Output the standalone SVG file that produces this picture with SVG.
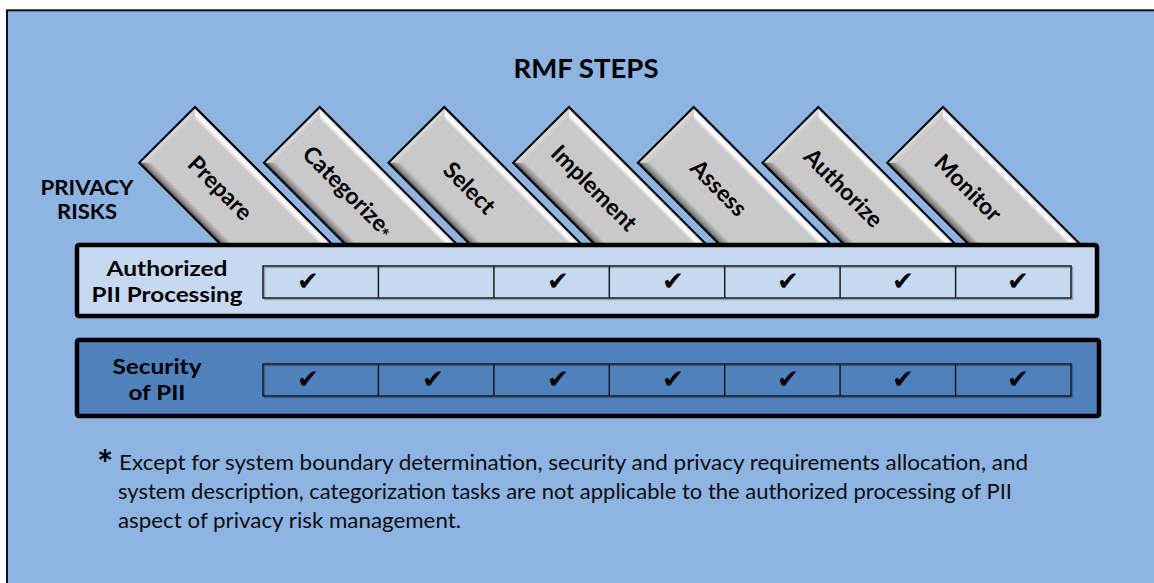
<svg xmlns="http://www.w3.org/2000/svg" xmlns:xlink="http://www.w3.org/1999/xlink" width="1154" height="583" viewBox="0 0 1154 583">
  <style>
    .lbl { font-family: Lato, "Liberation Sans", sans-serif; font-weight: bold; fill: #000; text-anchor: middle; }
    .tabt { font-family: Lato, "Liberation Sans", sans-serif; font-weight: bold; font-size: 23px; fill: #000; text-anchor: middle; }
    .note { font-family: Lato, "Liberation Sans", sans-serif; font-size: 21.5px; fill: #0d0d0d; }
    .chk { font-family: "DejaVu Sans", sans-serif; font-size: 26px; fill: #000; text-anchor: middle; }
    .grid { fill: none; stroke: #1a1a1a; stroke-width: 1.5; }
    .gshadow { fill: none; stroke: #000; stroke-opacity: 0.25; stroke-width: 1.5; }
  </style>
  <defs>
    <linearGradient id="gTop" x1="0" y1="0" x2="0" y2="1">
      <stop offset="0" stop-color="#b5b5b5"/>
      <stop offset="0.3" stop-color="#f2f2f2"/>
      <stop offset="0.55" stop-color="#ffffff"/>
      <stop offset="1" stop-color="#c9c9c9"/>
    </linearGradient>
    <linearGradient id="gLeft" x1="0" y1="0" x2="1" y2="0">
      <stop offset="0" stop-color="#dedede"/>
      <stop offset="1" stop-color="#c4c4c4"/>
    </linearGradient>
    <linearGradient id="gBot" x1="0" y1="0" x2="0" y2="1">
      <stop offset="0" stop-color="#c9c9c9"/>
      <stop offset="0.6" stop-color="#8a8a8a"/>
      <stop offset="1" stop-color="#3a3a3a"/>
    </linearGradient>
    <g id="tabbody">
      <rect x="0" y="0" width="200" height="79" fill="#c9c9c9"/>
      <polygon points="0,0 200,0 200,9 9,9" fill="url(#gTop)"/>
      <polygon points="0,0 9,9 9,70 0,79" fill="url(#gLeft)"/>
      <polygon points="0,79 9,70 200,70 200,79" fill="url(#gBot)"/>
      <rect x="0" y="0" width="200" height="79" fill="none" stroke="#000" stroke-width="2"/>
    </g>
  </defs>

  <rect x="0" y="0" width="1154" height="583" fill="#ffffff"/>
  <rect id="frame" x="7" y="10.3" width="1160" height="600" fill="#8eb4e3" stroke="#111" stroke-width="2"/>

  <text id="title" class="lbl" x="586" y="78" font-size="27" textLength="145" lengthAdjust="spacingAndGlyphs">RMF STEPS</text>

  <g id="privacy-risks">
    <text class="lbl" x="87" y="195" font-size="20" textLength="93" lengthAdjust="spacingAndGlyphs">PRIVACY</text>
    <text class="lbl" x="87" y="219" font-size="20" textLength="60" lengthAdjust="spacingAndGlyphs">RISKS</text>
  </g>

  <g id="tab-prepare" transform="translate(195,107) rotate(45)">
    <use xlink:href="#tabbody"/>
    <text class="tabt" x="75" y="47.5">Prepare</text>
  </g>
  <g id="tab-categorize" transform="translate(319.7,107) rotate(45)">
    <use xlink:href="#tabbody"/>
    <text class="tabt" x="80" y="47.5">Categorize<tspan font-size="19" dy="5">*</tspan></text>
  </g>
  <g id="tab-select" transform="translate(444.3,107) rotate(45)">
    <use xlink:href="#tabbody"/>
    <text class="tabt" x="75" y="47.5">Select</text>
  </g>
  <g id="tab-implement" transform="translate(569,107) rotate(45)">
    <use xlink:href="#tabbody"/>
    <text class="tabt" x="75" y="47.5">Implement</text>
  </g>
  <g id="tab-assess" transform="translate(693.7,107) rotate(45)">
    <use xlink:href="#tabbody"/>
    <text class="tabt" x="75" y="47.5">Assess</text>
  </g>
  <g id="tab-authorize" transform="translate(818.3,107) rotate(45)">
    <use xlink:href="#tabbody"/>
    <text class="tabt" x="75" y="47.5">Authorize</text>
  </g>
  <g id="tab-monitor" transform="translate(943,107) rotate(45)">
    <use xlink:href="#tabbody"/>
    <text class="tabt" x="75" y="47.5">Monitor</text>
  </g>

  <g id="row-authorized">
    <rect x="77" y="245" width="1020" height="71" rx="2" fill="#c6d9f1" stroke="#000" stroke-width="4.5"/>
    <text class="lbl" x="167" y="276" font-size="21.5" textLength="121" lengthAdjust="spacingAndGlyphs">Authorized</text>
    <text class="lbl" x="167" y="302" font-size="21.5" textLength="151" lengthAdjust="spacingAndGlyphs">PII Processing</text>
    <g>
      <rect class="gshadow" x="264.5" y="267.5" width="808" height="32"/>
      <rect class="grid" x="263" y="266" width="808" height="32"/>
      <path class="grid" d="M378.4 266V298M493.9 266V298M609.3 266V298M724.7 266V298M840.1 266V298M955.6 266V298"/>
    </g>
    <text class="chk" x="308" y="290">✔</text>
    <text class="chk" x="558" y="290">✔</text>
    <text class="chk" x="673" y="290">✔</text>
    <text class="chk" x="788" y="290">✔</text>
    <text class="chk" x="903" y="290">✔</text>
    <text class="chk" x="1018" y="290">✔</text>
  </g>

  <g id="row-security">
    <rect x="77" y="340" width="1022" height="76" rx="2" fill="#4f81bd" stroke="#000" stroke-width="4.5"/>
    <text class="lbl" x="157" y="374" font-size="21.5" textLength="89" lengthAdjust="spacingAndGlyphs">Security</text>
    <text class="lbl" x="157" y="400" font-size="21.5" textLength="57" lengthAdjust="spacingAndGlyphs">of PII</text>
    <g>
      <rect class="gshadow" x="264.5" y="365.5" width="808" height="32"/>
      <rect class="grid" x="263" y="364" width="808" height="32"/>
      <path class="grid" d="M378.4 364V396M493.9 364V396M609.3 364V396M724.7 364V396M840.1 364V396M955.6 364V396"/>
    </g>
    <text class="chk" x="308" y="388">✔</text>
    <text class="chk" x="433" y="388">✔</text>
    <text class="chk" x="558" y="388">✔</text>
    <text class="chk" x="673" y="388">✔</text>
    <text class="chk" x="788" y="388">✔</text>
    <text class="chk" x="903" y="388">✔</text>
    <text class="chk" x="1018" y="388">✔</text>
  </g>

  <g id="footnote">
    <text class="lbl" x="105" y="478" font-size="38">*</text>
    <text class="note" x="119" y="470" textLength="909" lengthAdjust="spacingAndGlyphs">Except for system boundary determination, security and privacy requirements allocation, and</text>
    <text class="note" x="118" y="499" textLength="894" lengthAdjust="spacingAndGlyphs">system description, categorization tasks are not applicable to the authorized processing of PII</text>
    <text class="note" x="118" y="528" textLength="343" lengthAdjust="spacingAndGlyphs">aspect of privacy risk management.</text>
  </g>
</svg>
